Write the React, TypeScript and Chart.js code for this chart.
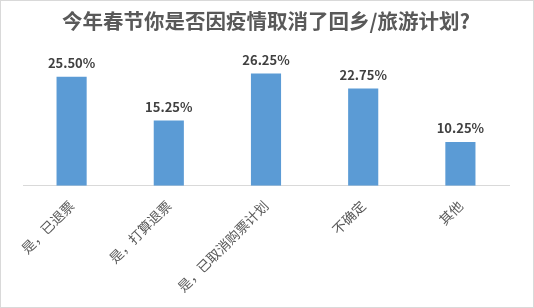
import React, { useEffect, useRef } from "react";
import { Chart, registerables } from "chart.js";

Chart.register(...registerables);

const categories = ["是，已退票", "是，打算退票", "是，已取消购票计划", "不确定", "其他"];
const values = [25.5, 15.25, 26.25, 22.75, 10.25];
const titleText = "今年春节你是否因疫情取消了回乡/旅游计划?";

const FONT = "'Noto Sans CJK SC', 'Microsoft YaHei', sans-serif";

const valueLabels = {
  id: "valueLabels",
  afterDatasetsDraw(chart: any) {
    const ctx = chart.ctx;
    const meta = chart.getDatasetMeta(0);
    ctx.save();
    ctx.font = `bold 13px ${FONT}`;
    ctx.fillStyle = "#404040";
    ctx.textAlign = "center";
    ctx.textBaseline = "bottom";
    meta.data.forEach((bar: any, i: number) => {
      ctx.fillText(values[i].toFixed(2) + "%", bar.x, bar.y - 7);
    });
    ctx.restore();
  },
};

export default function App() {
  const ref = useRef<HTMLCanvasElement>(null);
  useEffect(() => {
    document.body.style.margin = "0";
    const chart = new Chart(ref.current!, {
      type: "bar",
      data: {
        labels: categories,
        datasets: [
          {
            data: values,
            backgroundColor: "#5b9bd5",
            barPercentage: 0.62,
            categoryPercentage: 0.5,
          },
        ],
      },
      options: {
        animation: false,
        responsive: false,
        layout: { padding: { left: 22, right: 24, top: 0, bottom: 0 } },
        plugins: {
          legend: { display: false },
          tooltip: { enabled: false },
          title: {
            display: true,
            text: titleText,
            color: "#595959",
            font: { family: FONT, size: 20.5, weight: "bold" },
            padding: { top: 8, bottom: 24 },
          },
        },
        scales: {
          x: {
            grid: { display: false, drawTicks: false },
            border: { color: "#d9d9d9" },
            ticks: {
              color: "#595959",
              font: { family: FONT, size: 13.5 },
              maxRotation: 45,
              minRotation: 45,
              padding: 12,
            },
          },
          y: { display: false, min: 0, max: 30 },
        },
      },
      plugins: [valueLabels],
    });
    return () => chart.destroy();
  }, []);
  return (
    <div style={{ width: 534, height: 308, border: "1px solid #d9d9d9", boxSizing: "border-box", background: "#fff" }}>
      <canvas ref={ref} width={532} height={306} style={{ display: "block" }} />
    </div>
  );
}
